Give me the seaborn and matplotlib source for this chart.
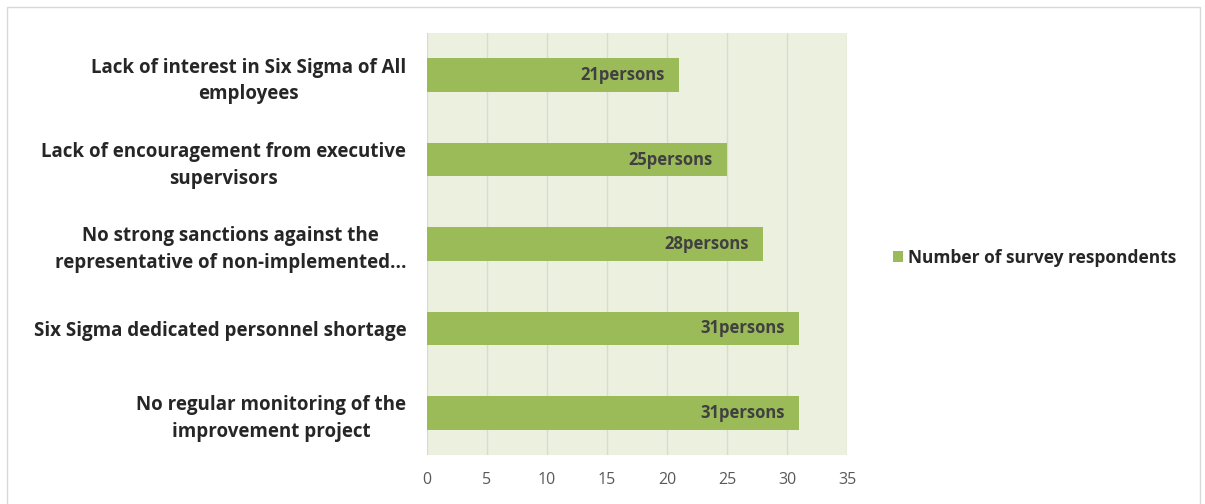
import matplotlib
matplotlib.use('Agg')
import matplotlib.pyplot as plt
import seaborn as sns
import pandas as pd
from matplotlib.patches import Rectangle, Patch

# Data
categories = [
    'Lack of interest in Six Sigma of All\nemployees',
    'Lack of encouragement from executive\nsupervisors',
    'No strong sanctions against the\nrepresentative of non-implemented...',
    'Six Sigma dedicated personnel shortage',
    'No regular monitoring of the\nimprovement project',
]
respondents = [21, 25, 28, 31, 31]
xticks = [0, 5, 10, 15, 20, 25, 30, 35]
series_name = 'Number of survey respondents'

df = pd.DataFrame({'category': categories, 'value': respondents})

sns.set_style('white')
plt.rcParams['font.family'] = ['Open Sans', 'DejaVu Sans']

fig = plt.figure(figsize=(12.05, 5.04), dpi=100)
ax = fig.add_axes([427 / 1205, 1 - 455 / 504, 420 / 1205, 422 / 504])

bar_color = '#9BBB59'
sns.barplot(data=df, x='value', y='category', orient='h', color=bar_color,
            width=0.4, saturation=1, ax=ax, zorder=3, linewidth=0)

ax.set_facecolor('#EBF1DE')
ax.set_xlim(0, 35)
ax.set_xticks(xticks)
ax.set_xticklabels([str(t) for t in xticks], color='#595959', fontsize=11.5)
ax.tick_params(axis='x', length=0, pad=12)
ax.tick_params(axis='y', length=0, pad=15)
for lbl in ax.get_yticklabels():
    lbl.set_fontweight('bold')
    lbl.set_fontsize(13.5)
    lbl.set_color('#262626')
    lbl.set_ha('right')
    lbl.set_multialignment('center')
    lbl.set_linespacing(1.45)
ax.grid(axis='x', color='#D9D9D9', linewidth=1, zorder=0)
ax.set_axisbelow(True)
for s in ax.spines.values():
    s.set_visible(False)
ax.set_xlabel('')
ax.set_ylabel('')

# data labels inside end
for i, v in enumerate(respondents):
    ax.text(v - 1.2, i, f'{v}persons', ha='right', va='center',
            fontsize=12, fontweight='bold', color='#404040', zorder=4)

# legend
handle = Patch(facecolor=bar_color, edgecolor='none')
fig.legend([handle], [series_name], loc='center left',
           bbox_to_anchor=(877 / 1205, 1 - 258 / 504), frameon=False,
           prop={'weight': 'bold', 'size': 12.5}, handlelength=0.6,
           handleheight=0.6, handletextpad=0.3)

# chart border
fig.patches.append(Rectangle((7 / 1205, -0.05), 1193 / 1205, 1 - 7 / 504 + 0.05,
                             transform=fig.transFigure, fill=False,
                             edgecolor='#D9D9D9', linewidth=1))

plt.savefig('out.png', dpi=100)
